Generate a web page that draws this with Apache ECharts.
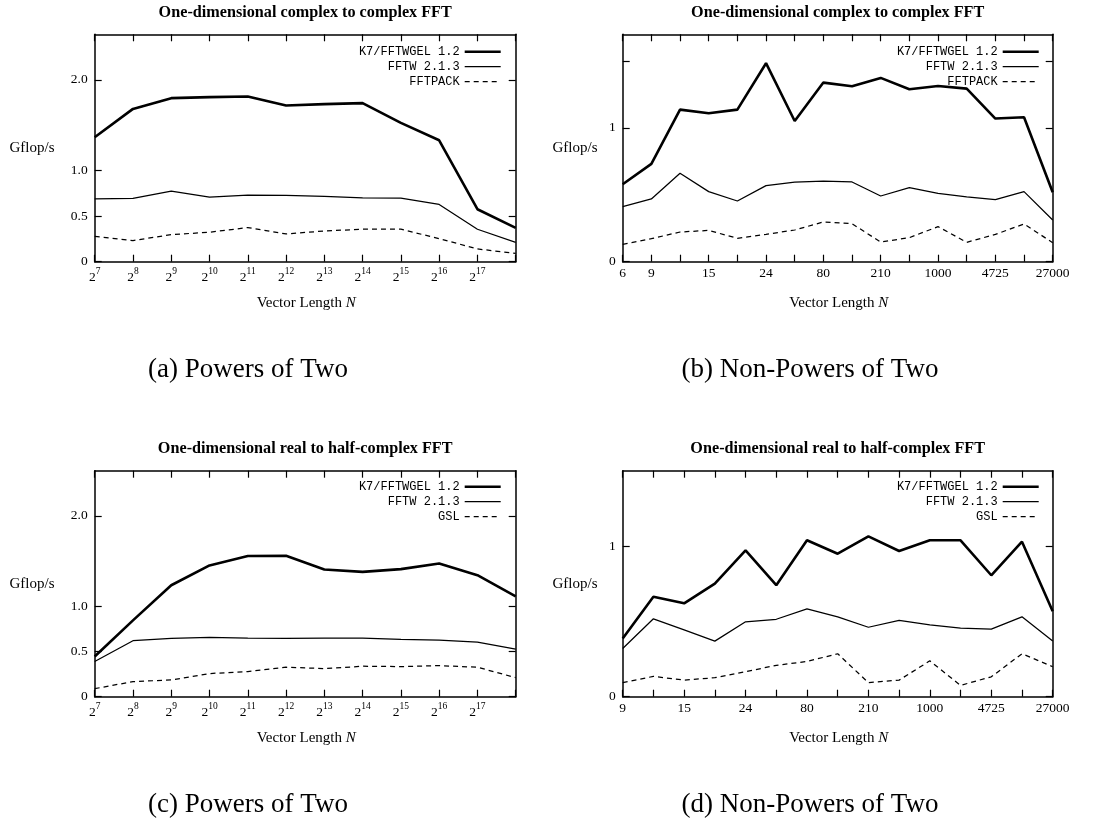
<!DOCTYPE html>
<html>
<head>
<meta charset="utf-8">
<script src="https://cdn.jsdelivr.net/npm/echarts@6/dist/echarts.min.js"></script>
<style>
html,body{margin:0;padding:0;background:#fff;}
#chart{width:1106px;height:822px;}
</style>
</head>
<body>
<div id="chart"></div>
<script>
// ---------- categories ----------
const catPow2 = ['7','8','9','10','11','12','13','14','15','16','17','18'];
const labelsPow2 = ['7','8','9','10','11','12','13','14','15','16','17'];
const catNonPow2B = ['6','9','12','15','18','24','36','80','108','210','504','1000','1960','4725','10368','27000'];
const labelsB = ['6','9','15','24','80','210','1000','4725','27000'];
const catNonPow2D = ['9','12','15','18','24','36','80','108','210','504','1000','1960','4725','10368','27000'];
const labelsD = ['9','15','24','80','210','1000','4725','27000'];

// ---------- y ticks ----------
const yTicksA = [0, 0.5, 1.0, 2.0];
const yTicksB = [0, 1, 1.5];
const yLabelsB = [0, 1];
const yTicksD = [0, 1];

// ---------- series names ----------
const nameK7 = 'K7/FFTWGEL 1.2';
const nameFFTW = 'FFTW 2.1.3';
const nameFFTPACK = 'FFTPACK';
const nameGSL = 'GSL';

// ---------- (a) complex, powers of two ----------
const aK7      = [1.368, 1.680, 1.798, 1.809, 1.816, 1.717, 1.732, 1.743, 1.526, 1.335, 0.577, 0.371];
const aFFTW    = [0.691, 0.695, 0.776, 0.710, 0.732, 0.728, 0.717, 0.702, 0.699, 0.629, 0.357, 0.213];
const aFFTPACK = [0.279, 0.232, 0.298, 0.324, 0.375, 0.305, 0.338, 0.357, 0.357, 0.254, 0.140, 0.092];

// ---------- (b) complex, non-powers of two ----------
const bK7      = [0.579, 0.731, 1.137, 1.110, 1.137, 1.484, 1.052, 1.339, 1.312, 1.374, 1.289, 1.314, 1.294, 1.070, 1.080, 0.519];
const bFFTW    = [0.411, 0.469, 0.661, 0.524, 0.454, 0.569, 0.594, 0.603, 0.596, 0.491, 0.554, 0.511, 0.484, 0.464, 0.524, 0.312];
const bFFTPACK = [0.130, 0.172, 0.222, 0.234, 0.175, 0.204, 0.237, 0.297, 0.284, 0.147, 0.180, 0.262, 0.145, 0.204, 0.282, 0.142];

// ---------- (c) real, powers of two ----------
const cK7   = [0.444, 0.844, 1.233, 1.452, 1.556, 1.559, 1.407, 1.381, 1.411, 1.474, 1.344, 1.111];
const cFFTW = [0.389, 0.619, 0.644, 0.656, 0.648, 0.644, 0.648, 0.648, 0.633, 0.626, 0.604, 0.526];
const cGSL  = [0.089, 0.167, 0.185, 0.256, 0.278, 0.326, 0.311, 0.337, 0.333, 0.344, 0.326, 0.211];

// ---------- (d) real, non-powers of two ----------
const dK7   = [0.386, 0.664, 0.620, 0.751, 0.971, 0.740, 1.038, 0.949, 1.064, 0.967, 1.038, 1.038, 0.806, 1.029, 0.567];
const dFFTW = [0.320, 0.517, 0.444, 0.369, 0.497, 0.514, 0.583, 0.530, 0.461, 0.506, 0.477, 0.455, 0.448, 0.530, 0.369];
const dGSL  = [0.093, 0.135, 0.110, 0.126, 0.166, 0.208, 0.234, 0.285, 0.093, 0.110, 0.238, 0.075, 0.132, 0.285, 0.199];

// ---------- texts ----------
const titleC2C = 'One-dimensional complex to complex FFT';
const titleR2HC = 'One-dimensional real to half-complex FFT';
const yName = 'Gflop/s';
const captions = ['(a) Powers of Two', '(b) Non-Powers of Two', '(c) Powers of Two', '(d) Non-Powers of Two'];

const SERIF = '"Liberation Serif", "DejaVu Serif", serif';
const MONO = '"Liberation Mono", "DejaVu Sans Mono", monospace';

const panels = [
  {left: 94.7, top: 34.3, width: 421, height: 227.4, cats: catPow2, pow2: true, labels: labelsPow2,
   yMax: 2.5, yTicks: yTicksA, yLabels: yTicksA, fmt: v => v === 0 ? '0' : v.toFixed(1),
   series: [[nameK7, aK7], [nameFFTW, aFFTW], [nameFFTPACK, aFFTPACK]], title: titleC2C,
   legendRight: 604, legendTop: 44.7, legendW: 36},
  {left: 622.7, top: 34.3, width: 430, height: 227.4, cats: catNonPow2B, pow2: false, labels: labelsB,
   yMax: 1.7, yTicks: yTicksB, yLabels: yLabelsB, fmt: v => String(v),
   series: [[nameK7, bK7], [nameFFTW, bFFTW], [nameFFTPACK, bFFTPACK]], title: titleC2C,
   legendRight: 66, legendTop: 44.7, legendW: 36},
  {left: 94.7, top: 470.7, width: 421, height: 226, cats: catPow2, pow2: true, labels: labelsPow2,
   yMax: 2.5, yTicks: yTicksA, yLabels: yTicksA, fmt: v => v === 0 ? '0' : v.toFixed(1),
   series: [[nameK7, cK7], [nameFFTW, cFFTW], [nameGSL, cGSL]], title: titleR2HC,
   legendRight: 604, legendTop: 479.7, legendW: 36},
  {left: 622.7, top: 470.7, width: 430, height: 226, cats: catNonPow2D, pow2: false, labels: labelsD,
   yMax: 1.5, yTicks: yTicksD, yLabels: yTicksD, fmt: v => String(v),
   series: [[nameK7, dK7], [nameFFTW, dFFTW], [nameGSL, dGSL]], title: titleR2HC,
   legendRight: 66, legendTop: 479.7, legendW: 36}
];

const lineStyles = [
  {color: '#000', width: 2.6, type: 'solid'},
  {color: '#000', width: 1.25, type: 'solid'},
  {color: '#000', width: 1.25, type: [5, 4]}
];

const grid = [], xAxis = [], yAxis = [], series = [], legend = [], graphic = [];
const axisLineStyle = {show: true, onZero: false, lineStyle: {color: '#000', width: 1.5}};
const tickStyle = {color: '#000', width: 1.2};

panels.forEach((p, i) => {
  grid.push({left: p.left, top: p.top, width: p.width, height: p.height, containLabel: false});
  const labelFn = (idx, val) => p.labels.indexOf(val) >= 0;
  xAxis.push({
    type: 'category', gridIndex: i, data: p.cats, boundaryGap: false, position: 'bottom',
    axisLine: axisLineStyle,
    axisTick: {show: true, inside: true, length: 7, interval: 0, lineStyle: tickStyle},
    axisLabel: {
      interval: labelFn, color: '#000', fontFamily: SERIF, fontSize: 13.5, margin: 5,
      formatter: p.pow2 ? (v => '{b|2}{s|' + v + '}') : (v => v),
      rich: {
        b: {fontFamily: SERIF, fontSize: 13.5, color: '#000', lineHeight: 18, verticalAlign: 'bottom'},
        s: {fontFamily: SERIF, fontSize: 9.5, color: '#000', lineHeight: 10, verticalAlign: 'top'}
      }
    },
    splitLine: {show: false}
  });
  xAxis.push({
    type: 'category', gridIndex: i, data: p.cats, boundaryGap: false, position: 'top',
    axisLine: axisLineStyle,
    axisTick: {show: true, inside: true, length: 7, interval: 0, lineStyle: tickStyle},
    axisLabel: {show: false}, splitLine: {show: false}
  });
  yAxis.push({
    type: 'value', gridIndex: i, min: 0, max: p.yMax, position: 'left',
    axisLine: axisLineStyle,
    axisTick: {show: true, inside: true, length: 7, customValues: p.yTicks, lineStyle: tickStyle},
    axisLabel: {customValues: p.yLabels, formatter: p.fmt, color: '#000', fontFamily: SERIF, fontSize: 13.5, margin: 7},
    splitLine: {show: false}
  });
  yAxis.push({
    type: 'value', gridIndex: i, min: 0, max: p.yMax, position: 'right',
    axisLine: axisLineStyle,
    axisTick: {show: true, inside: true, length: 7, customValues: p.yTicks, lineStyle: tickStyle},
    axisLabel: {show: false}, splitLine: {show: false}
  });
  p.series.forEach((s, k) => {
    series.push({
      type: 'line', name: s[0], data: s[1], xAxisIndex: 2 * i, yAxisIndex: 2 * i,
      symbol: 'none', showSymbol: false, lineStyle: lineStyles[k], itemStyle: {color: '#000'},
      animation: false, z: 5 - k
    });
  });
  legend.push({
    data: p.series.map((s, k) => ({name: s[0], lineStyle: {color: '#000', width: k === 0 ? 2.6 : 1.25, type: lineStyles[k].type}})),
    orient: 'vertical', align: 'right', right: p.legendRight, top: p.legendTop,
    itemWidth: p.legendW, itemHeight: 10, itemGap: 1, selectedMode: false, padding: 0,
    itemStyle: {color: 'rgba(0,0,0,0)', borderColor: 'rgba(0,0,0,0)', borderWidth: 0, opacity: 0},
    textStyle: {fontFamily: MONO, fontSize: 12, color: '#000', lineHeight: 14}
  });
  const cx = p.left + p.width / 2;
  graphic.push({type: 'text', x: cx, y: p.top - 21.6, style: {text: p.title, fontFamily: SERIF, fontWeight: 'bold', fontSize: 16.2, fill: '#000', align: 'center', verticalAlign: 'middle'}});
  graphic.push({type: 'text', x: i % 2 === 0 ? 32 : 575, y: p.top + 113.4, style: {text: yName, fontFamily: SERIF, fontSize: 15, fill: '#000', align: 'center', verticalAlign: 'middle'}});
  graphic.push({type: 'text', x: cx + 1, y: p.top + p.height + 41.5, style: {text: 'Vector Length {i|N}', fontFamily: SERIF, fontSize: 15, fill: '#000', align: 'center', verticalAlign: 'middle',
    rich: {i: {fontFamily: SERIF, fontSize: 15, fontStyle: 'italic', fill: '#000'}}}});
  graphic.push({type: 'text', x: i % 2 === 0 ? 248 : 810, y: i < 2 ? 370 : 805, style: {text: captions[i], fontFamily: SERIF, fontSize: 27, fill: '#000', align: 'center', verticalAlign: 'middle'}});
});

const chart = echarts.init(document.getElementById('chart'), null, {renderer: 'canvas'});
chart.setOption({
  backgroundColor: '#fff',
  animation: false,
  grid: grid, xAxis: xAxis, yAxis: yAxis, series: series, legend: legend, graphic: graphic
});
</script>
</body>
</html>
